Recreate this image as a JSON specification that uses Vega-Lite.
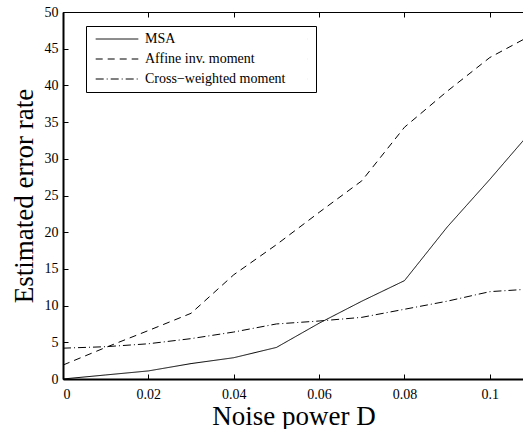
{
  "$schema": "https://vega.github.io/schema/vega-lite/v6.json",
  "width": 461,
  "height": 367,
  "autosize": "none",
  "padding": {"left": 63, "top": 12, "right": 0, "bottom": 50},
  "config": {
    "font": "Liberation Serif",
    "view": {"stroke": "black", "strokeWidth": 1},
    "axis": {"grid": false, "labelFont": "Liberation Serif", "titleFont": "Liberation Serif", "labelColor": "black", "titleColor": "black", "domainColor": "black", "tickColor": "black", "titleFontWeight": "normal"}
  },
  "data": {"values": [
    {"D": 0, "rate": 0.0, "method": "MSA"},
    {"D": 0.01, "rate": 0.55, "method": "MSA"},
    {"D": 0.02, "rate": 1.1, "method": "MSA"},
    {"D": 0.03, "rate": 2.1, "method": "MSA"},
    {"D": 0.04, "rate": 2.9, "method": "MSA"},
    {"D": 0.05, "rate": 4.3, "method": "MSA"},
    {"D": 0.06, "rate": 7.6, "method": "MSA"},
    {"D": 0.07, "rate": 10.6, "method": "MSA"},
    {"D": 0.08, "rate": 13.4, "method": "MSA"},
    {"D": 0.09, "rate": 20.7, "method": "MSA"},
    {"D": 0.1, "rate": 27.2, "method": "MSA"},
    {"D": 0.108, "rate": 32.6, "method": "MSA"},
    {"D": 0, "rate": 1.9, "method": "Affine inv. moment"},
    {"D": 0.01, "rate": 4.3, "method": "Affine inv. moment"},
    {"D": 0.02, "rate": 6.6, "method": "Affine inv. moment"},
    {"D": 0.03, "rate": 8.95, "method": "Affine inv. moment"},
    {"D": 0.04, "rate": 14.2, "method": "Affine inv. moment"},
    {"D": 0.05, "rate": 18.3, "method": "Affine inv. moment"},
    {"D": 0.06, "rate": 22.7, "method": "Affine inv. moment"},
    {"D": 0.07, "rate": 27.0, "method": "Affine inv. moment"},
    {"D": 0.08, "rate": 34.3, "method": "Affine inv. moment"},
    {"D": 0.09, "rate": 39.2, "method": "Affine inv. moment"},
    {"D": 0.1, "rate": 43.8, "method": "Affine inv. moment"},
    {"D": 0.108, "rate": 46.3, "method": "Affine inv. moment"},
    {"D": 0, "rate": 4.2, "method": "Cross−weighted moment"},
    {"D": 0.01, "rate": 4.4, "method": "Cross−weighted moment"},
    {"D": 0.02, "rate": 4.8, "method": "Cross−weighted moment"},
    {"D": 0.03, "rate": 5.5, "method": "Cross−weighted moment"},
    {"D": 0.04, "rate": 6.4, "method": "Cross−weighted moment"},
    {"D": 0.05, "rate": 7.5, "method": "Cross−weighted moment"},
    {"D": 0.06, "rate": 7.9, "method": "Cross−weighted moment"},
    {"D": 0.07, "rate": 8.4, "method": "Cross−weighted moment"},
    {"D": 0.08, "rate": 9.5, "method": "Cross−weighted moment"},
    {"D": 0.09, "rate": 10.6, "method": "Cross−weighted moment"},
    {"D": 0.1, "rate": 11.9, "method": "Cross−weighted moment"},
    {"D": 0.108, "rate": 12.2, "method": "Cross−weighted moment"}
  ]},
  "resolve": {"axis": {"x": "independent"}},
  "layer": [
    {
      "mark": {"type": "line", "color": "black", "strokeWidth": 1, "clip": true},
      "encoding": {
        "x": {"field": "D", "type": "quantitative",
          "scale": {"domain": [0, 0.108], "nice": false},
          "axis": {"values": [0, 0.02, 0.04, 0.06, 0.08, 0.1], "format": "~g", "title": "Noise power D", "titleFontSize": 27, "labelFontSize": 14, "tickSize": -5, "labelPadding": 13, "domainWidth": 2, "titlePadding": 2}},
        "y": {"field": "rate", "type": "quantitative",
          "scale": {"domain": [0, 50], "nice": false},
          "axis": {"values": [0, 5, 10, 15, 20, 25, 30, 35, 40, 45, 50], "title": "Estimated error rate", "titleFontSize": 27, "labelFontSize": 14, "tickSize": -5, "labelPadding": 10, "domainWidth": 2, "titlePadding": 6}},
        "strokeDash": {"field": "method", "type": "nominal",
          "scale": {"domain": ["MSA", "Affine inv. moment", "Cross−weighted moment"], "range": [[1, 0], [7, 5], [8, 3, 1, 3]]},
          "legend": {"title": null, "orient": "none", "legendX": 23, "legendY": 14, "symbolType": "M-0.508,0H6.05M32,0H32.01", "symbolSize": 169, "symbolStrokeColor": "black", "symbolStrokeWidth": 1, "labelFontSize": 14, "labelFont": "Liberation Serif", "labelColor": "black", "fillColor": "white", "strokeColor": "black", "padding": 6, "rowPadding": 6, "labelOffset": 39}}
      }
    },
    {
      "mark": {"type": "rule", "opacity": 0},
      "encoding": {
        "x": {"field": "D", "type": "quantitative",
          "axis": {"orient": "top", "values": [0, 0.02, 0.04, 0.06, 0.08, 0.1], "labels": false, "title": null, "tickSize": -5, "domain": false}}
      }
    }
  ]
}
